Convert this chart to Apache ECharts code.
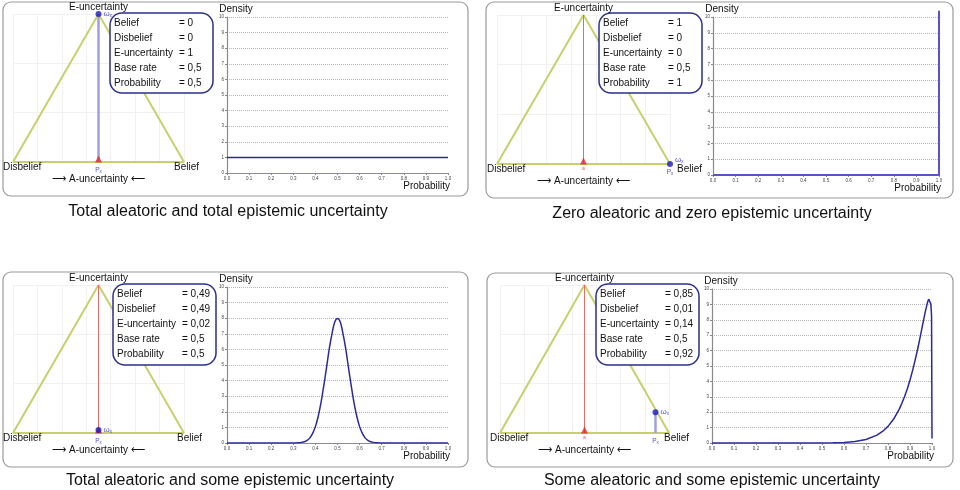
<!DOCTYPE html>
<html><head><meta charset="utf-8">
<script src="https://cdn.jsdelivr.net/npm/echarts@6/dist/echarts.min.js"></script>
<style>html,body{margin:0;padding:0;background:#fff}#c{width:960px;height:490px}</style>
</head><body><div id="c"></div>
<script>
// ---------- data ----------
const captions = [
  'Total aleatoric and total epistemic uncertainty',
  'Zero aleatoric and zero epistemic uncertainty',
  'Total aleatoric and some epistemic uncertainty',
  'Some aleatoric and some epistemic uncertainty'
];
const beliefs       = [0, 1, 0.49, 0.85];
const disbeliefs    = [0, 0, 0.49, 0.01];
const uncertainties = [1, 0, 0.02, 0.14];
const baseRates     = [0.5, 0.5, 0.5, 0.5];
const probabilities = [0.5, 1, 0.5, 0.92];
const infoLabels = ['Belief', 'Disbelief', 'E-uncertainty', 'Base rate', 'Probability'];
const cornerLabels = ['E-uncertainty', 'Disbelief', 'Belief', '\u27F6 A-uncertainty \u27F5'];
const axisNames = ['Probability', 'Density'];
// barycentric corners of the opinion triangle: disbelief, belief, uncertainty
const cornerDisbelief = [0, 0];
const cornerBelief = [1, 0];
const cornerUncertainty = [0.5, 1];
const probTickLabels = ['0.0','0.1','0.2','0.3','0.4','0.5','0.6','0.7','0.8','0.9','1.0'];
const densityTickLabels = ['0','1','2','3','4','5','6','7','8','9','10'];

const probX1 = [0, 1];
const density1 = [1, 1];
const probX2 = [0, 1, 1];
const density2 = [0, 0, 10.4];
const probX3 = [0, 0.1, 0.2, 0.3, 0.325, 0.3375, 0.35, 0.3625, 0.375, 0.3875, 0.4, 0.4125, 0.425, 0.4375, 0.45, 0.4625, 0.475, 0.4875, 0.5,
  0.5125, 0.525, 0.5375, 0.55, 0.5625, 0.575, 0.5875, 0.6, 0.6125, 0.625, 0.6375, 0.65, 0.6625, 0.675, 0.7, 0.8, 0.9, 1.0];
const density3 = [0, 0, 0, 0, 0.02, 0.04, 0.08, 0.17, 0.33, 0.62, 1.05, 1.70, 2.55, 3.63, 4.80, 6.02, 7.00, 7.75, 7.98,
  7.75, 7.00, 6.02, 4.80, 3.63, 2.55, 1.70, 1.05, 0.62, 0.33, 0.17, 0.08, 0.04, 0.02, 0, 0, 0, 0];
const probX4 = [0, 0.1, 0.2, 0.3, 0.4, 0.5, 0.55, 0.6, 0.65, 0.7, 0.75, 0.775, 0.8, 0.825, 0.85, 0.8625, 0.875, 0.8875, 0.9, 0.9125,
  0.925, 0.9375, 0.95, 0.96, 0.97, 0.98, 0.985, 0.99, 0.995, 0.998, 1.0];
const density4 = [0, 0, 0, 0, 0.0005, 0.004, 0.013, 0.036, 0.094, 0.227, 0.51, 0.75, 1.08, 1.54, 2.17, 2.56, 3.0, 3.51, 4.09, 4.75,
  5.48, 6.28, 7.15, 7.86, 8.56, 9.15, 9.34, 9.37, 9.02, 8.21, 0.3];
const probXs = [probX1, probX2, probX3, probX4];
const densities = [density1, density2, density3, density4];

// ---------- layout ----------
const panels = [
  {border:[3,2,465,194],   tri:[13,14,171,148],  info:[110,13,103,80],  dens:[227,17,221,156], cap:[228,212], beliefX:174},
  {border:[486,2,467,196], tri:[497,15,173,149], info:[599,13,103,80],  dens:[713,17,226,158], cap:[712,214], beliefX:677},
  {border:[3,272,465,195], tri:[13,285,171,148], info:[113,284,103,81], dens:[227,287,221,156], cap:[230,481], beliefX:177},
  {border:[487,273,466,194], tri:[500,285,169,148], info:[596,284,103,81], dens:[712,289,220,154], cap:[712,481], beliefX:664}
];
const FONT = '"Liberation Sans", Arial, sans-serif';
const fmt = v => String(v).replace('.', ',');
const BLUE = '#1c1cc0';

const grid = [], xAxis = [], yAxis = [], series = [], elements = [];

panels.forEach((p, i) => {
  const [tl, tt, tw, th] = p.tri;
  grid.push({left: tl, top: tt, width: tw, height: th});
  xAxis.push({type:'value', gridIndex:i, min:0, max:1, interval:1/7,
    axisLine:{show:false}, axisTick:{show:false}, axisLabel:{show:false},
    splitLine:{show:true, lineStyle:{color:'#f1f1f1', width:1}}});
  yAxis.push({type:'value', gridIndex:i, min:0, max:1, interval:1/3,
    axisLine:{show:false}, axisTick:{show:false}, axisLabel:{show:false},
    splitLine:{show:true, lineStyle:{color:'#f1f1f1', width:1}}});
});
panels.forEach((p, i) => {
  const [dl, dt, dw, dh] = p.dens;
  grid.push({left: dl, top: dt, width: dw, height: dh});
  xAxis.push({type:'value', gridIndex:4+i, min:0, max:1, interval:0.1,
    axisLine:{lineStyle:{color:'#8a8a9a', width:1.2}},
    axisTick:{length:2, lineStyle:{color:'#888'}},
    axisLabel:{fontSize:4.5, margin:3, color:'#444', formatter: v => probTickLabels[Math.round(v*10)]},
    splitLine:{show:false}});
  yAxis.push({type:'value', gridIndex:4+i, min:0, max:10, interval:1,
    name:axisNames[1], nameLocation:'end', nameGap:3,
    nameTextStyle:{fontFamily:FONT, fontSize:10, color:'#111', align:'center', padding:[0,0,0,18]},
    axisLine:{lineStyle:{color:'#8a8a8a', width:1.2}},
    axisTick:{length:2, lineStyle:{color:'#888'}},
    axisLabel:{fontSize:4.5, margin:3, color:'#444', formatter: v => densityTickLabels[Math.round(v)]},
    splitLine:{show:true, lineStyle:{type:'dotted', color:'#b8b8b8', width:1}}});
});

panels.forEach((p, i) => {
  const b = beliefs[i], d = disbeliefs[i], u = uncertainties[i], a = baseRates[i], P = probabilities[i];
  const ox = d*cornerDisbelief[0] + b*cornerBelief[0] + u*cornerUncertainty[0];
  const oy = d*cornerDisbelief[1] + b*cornerBelief[1] + u*cornerUncertainty[1];
  // triangle outline
  series.push({type:'line', xAxisIndex:i, yAxisIndex:i, showSymbol:false, silent:true, z:2,
    data:[cornerDisbelief, cornerBelief, cornerUncertainty, cornerDisbelief],
    lineStyle:{color:'#c8d06c', width:2}});
  // director (base rate) line
  series.push({type:'line', xAxisIndex:i, yAxisIndex:i, showSymbol:false, silent:true, z:3,
    data:[[a, 0], cornerUncertainty], lineStyle:{color:'#e86a6a', width:1}});
  // projector
  series.push({type:'line', xAxisIndex:i, yAxisIndex:i, showSymbol:false, silent:true, z:4,
    data:[[ox, oy], [P, 0]], lineStyle:{color:'#a0a0e0', width:2.5}});
  // base-rate marker
  series.push({type:'scatter', xAxisIndex:i, yAxisIndex:i, z:5, symbol:'triangle', symbolSize:[7,7], symbolOffset:[0,-3],
    itemStyle:{color:'#e02a2a'}, data:[[a, 0]],
    label:{show: P !== a, position:'bottom', distance:2, formatter:'a', fontSize:5, color:'#e02a2a', fontFamily:FONT}});
  // probability projection label
  series.push({type:'scatter', xAxisIndex:i, yAxisIndex:i, z:5, symbolSize:1, itemStyle:{color:'rgba(0,0,0,0)'},
    data:[[P, 0]],
    label:{show:true, position:'bottom', distance:4, formatter:'{p|P}{s|x}',
      rich:{p:{fontSize:6.5, color:BLUE, fontFamily:FONT}, s:{fontSize:4.5, color:BLUE, fontFamily:FONT, padding:[3,0,0,0]}}}});
  // opinion point
  series.push({type:'scatter', xAxisIndex:i, yAxisIndex:i, z:6, symbol:'circle', symbolSize:6,
    itemStyle:{color:BLUE}, data:[[ox, oy]],
    label:{show:true, position:'right', distance:2, offset:[0, i===1 ? -4 : 0], formatter:'{w|\u03C9}{s|x}',
      rich:{w:{fontSize:8, color:BLUE, fontFamily:FONT}, s:{fontSize:4.5, color:BLUE, fontFamily:FONT, padding:[3,0,0,0]}}}});
  // density curve
  series.push({type:'line', xAxisIndex:4+i, yAxisIndex:4+i, showSymbol:false, silent:true, z:4,
    clip: i !== 1, smooth: i === 2 ? 0.3 : false,
    data: probXs[i].map((x, k) => [x, densities[i][k]]),
    lineStyle:{color: i === 1 ? '#5a4fd6' : '#2a2a9c', width: i === 1 ? 2 : 1.5}});

  // ---- graphic layout elements ----
  const [bx, by, bw, bh] = p.border;
  elements.push({type:'rect', z:1, silent:true, shape:{x:bx, y:by, width:bw, height:bh, r:8},
    style:{fill:'none', stroke:'#9a9a9a', lineWidth:1.2}});
  const [ix, iy, iw, ih] = p.info;
  elements.push({type:'rect', z:100, silent:true, shape:{x:ix, y:iy, width:iw, height:ih, r:12},
    style:{fill:'#fff', stroke:'#2b2f8f', lineWidth:1.5}});
  const vals = [b, d, u, a, P];
  infoLabels.forEach((lab, k) => {
    elements.push({type:'text', z:101, silent:true, x: ix + 4, y: iy + 10 + k*15,
      style:{text: lab, fontSize:10, fontFamily:FONT, fill:'#111', align:'left', verticalAlign:'middle'}});
    elements.push({type:'text', z:101, silent:true, x: ix + 69, y: iy + 10 + k*15,
      style:{text: '= ' + fmt(vals[k]), fontSize:10, fontFamily:FONT, fill:'#111', align:'left', verticalAlign:'middle'}});
  });
  const [tl, tt, tw, th] = p.tri;
  const base = tt + th;
  elements.push({type:'text', z:101, silent:true, x: tl + tw/2, y: tt - 7,
    style:{text: cornerLabels[0], fontSize:10, fontFamily:FONT, fill:'#111', align:'center', verticalAlign:'middle'}});
  elements.push({type:'text', z:101, silent:true, x: tl - 10, y: base + 5,
    style:{text: cornerLabels[1], fontSize:10, fontFamily:FONT, fill:'#111', align:'left', verticalAlign:'middle'}});
  elements.push({type:'text', z:101, silent:true, x: p.beliefX, y: base + 5,
    style:{text: cornerLabels[2], fontSize:10, fontFamily:FONT, fill:'#111', align:'left', verticalAlign:'middle'}});
  elements.push({type:'text', z:101, silent:true, x: tl + tw/2, y: base + 17,
    style:{text: cornerLabels[3], fontSize:10, fontFamily:FONT, fill:'#111', align:'center', verticalAlign:'middle'}});
  const [dl, dt, dw, dh] = p.dens;
  elements.push({type:'text', z:101, silent:true, x: dl + dw + 2, y: dt + dh + 13,
    style:{text: axisNames[0], fontSize:10, fontFamily:FONT, fill:'#111', align:'right', verticalAlign:'middle'}});
  elements.push({type:'text', z:101, silent:true, x: p.cap[0], y: p.cap[1],
    style:{text: captions[i], fontSize:16, fontFamily:FONT, fill:'#111', align:'center', verticalAlign:'middle'}});
});

const chart = echarts.init(document.getElementById('c'), null, {renderer:'canvas'});
chart.setOption({
  animation:false,
  backgroundColor:'#fff',
  grid, xAxis, yAxis, series,
  graphic:{elements}
});
</script>
</body></html>
